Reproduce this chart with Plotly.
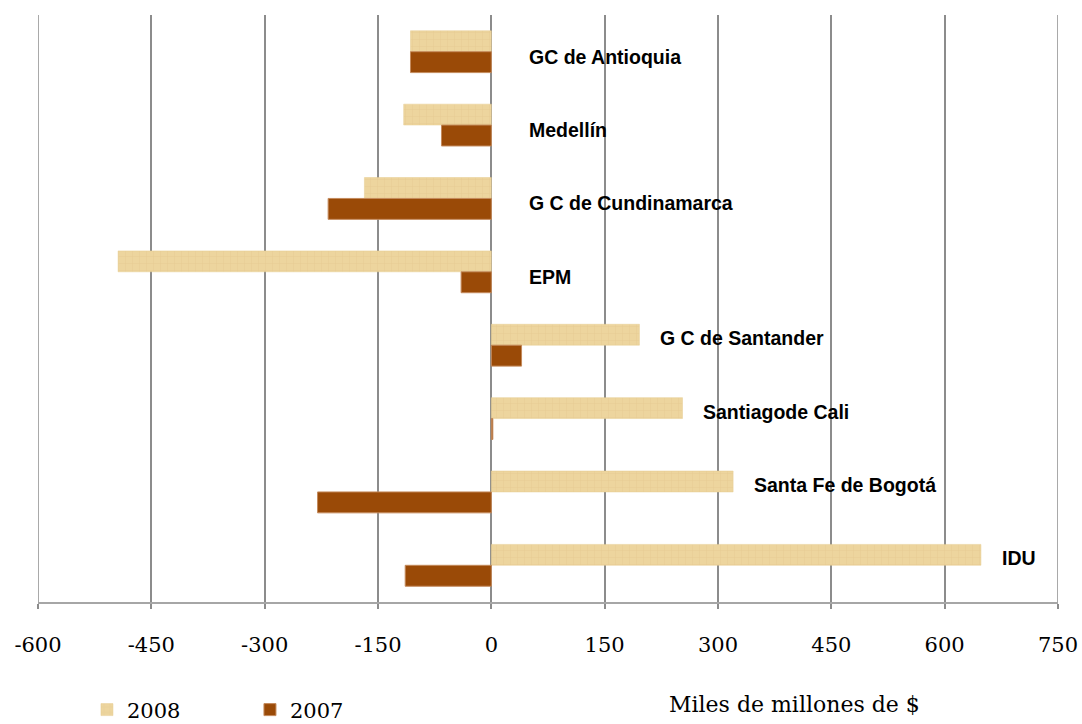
import plotly.graph_objects as go

categories = ["GC de Antioquia", "Medellín", "G C de Cundinamarca", "EPM",
              "G C de Santander", "Santiagode Cali", "Santa Fe de Bogotá", "IDU"]
values_2008 = [-107, -116, -168, -494, 196, 253, 320, 648]
values_2007 = [-107, -66, -216, -40, 40, 2, -230, -114]
tick_values = [-600, -450, -300, -150, 0, 150, 300, 450, 600, 750]
tick_labels = ["-600", "-450", "-300", "-150", "0", "150", "300", "450", "600", "750"]

serif = "DejaVu Serif, serif"
sans = "Liberation Sans, Arial, sans-serif"

fig = go.Figure()
fig.add_trace(go.Bar(
    y=categories, x=values_2008, orientation="h", name="2008",
    marker=dict(color="#EDD59E", line=dict(color="#E6CC90", width=0.5),
                pattern=dict(shape="+", fgcolor="#D9BC80", size=7, solidity=0.1,
                             fillmode="overlay")),
))
fig.add_trace(go.Bar(
    y=categories, x=values_2007, orientation="h", name="2007",
    marker=dict(color="#9A4A07", line=dict(color="#C48A5C", width=1)),
))

annotations = []
for cat, v in zip(categories, values_2008):
    annotations.append(dict(
        x=max(v, 0), y=cat, xref="x", yref="y", text="<b>%s</b>" % cat,
        showarrow=False, xanchor="left", yanchor="middle",
        xshift=36 if v < 0 else 19, yshift=-5 if v < 0 else 7,
        font=dict(family=sans, size=19.5, color="#000000"),
    ))
annotations.append(dict(
    x=0.617, y=-0.175, xref="paper", yref="paper", text="Miles de millones de $",
    showarrow=False, xanchor="left", yanchor="middle",
    font=dict(family=serif, size=22, color="#000000"),
))

# edge gridlines (plotly hides gridlines at the range edges)
shapes = [dict(type="line", xref="x", yref="paper", x0=t, x1=t, y0=0, y1=1,
               line=dict(color="#8C8C8C", width=1.5))
          for t in (tick_values[0], tick_values[-1])]

fig.update_layout(
    width=1082, height=724,
    margin=dict(l=38, r=24, t=15, b=122, autoexpand=False),
    paper_bgcolor="white", plot_bgcolor="white",
    barmode="group", bargap=0.43, bargroupgap=0,
    annotations=annotations, shapes=shapes,
    showlegend=True,
    legend=dict(orientation="h", x=0.048, y=-0.149, xanchor="left", yanchor="top",
                font=dict(family=serif, size=21, color="#000000"),
                entrywidth=118, entrywidthmode="pixels", itemwidth=30),
    xaxis=dict(range=[-600, 750], tickvals=tick_values, ticktext=tick_labels,
               automargin=False,
               showgrid=True, gridcolor="#8C8C8C", gridwidth=1.5,
               zeroline=False, showline=True, linecolor="#A6A6A6", linewidth=2,
               ticks="outside", ticklen=5, tickcolor="#8C8C8C", tickwidth=1.5,
               ticklabelstandoff=18,
               tickfont=dict(family=serif, size=21, color="#000000")),
    yaxis=dict(autorange="reversed", showticklabels=False, showgrid=False,
               automargin=False,
               zeroline=False, showline=False, ticks=""),
)

fig.write_html("out.html", config={"displayModeBar": False},
               post_script="document.body.style.margin='0';document.body.style.overflow='hidden';")
